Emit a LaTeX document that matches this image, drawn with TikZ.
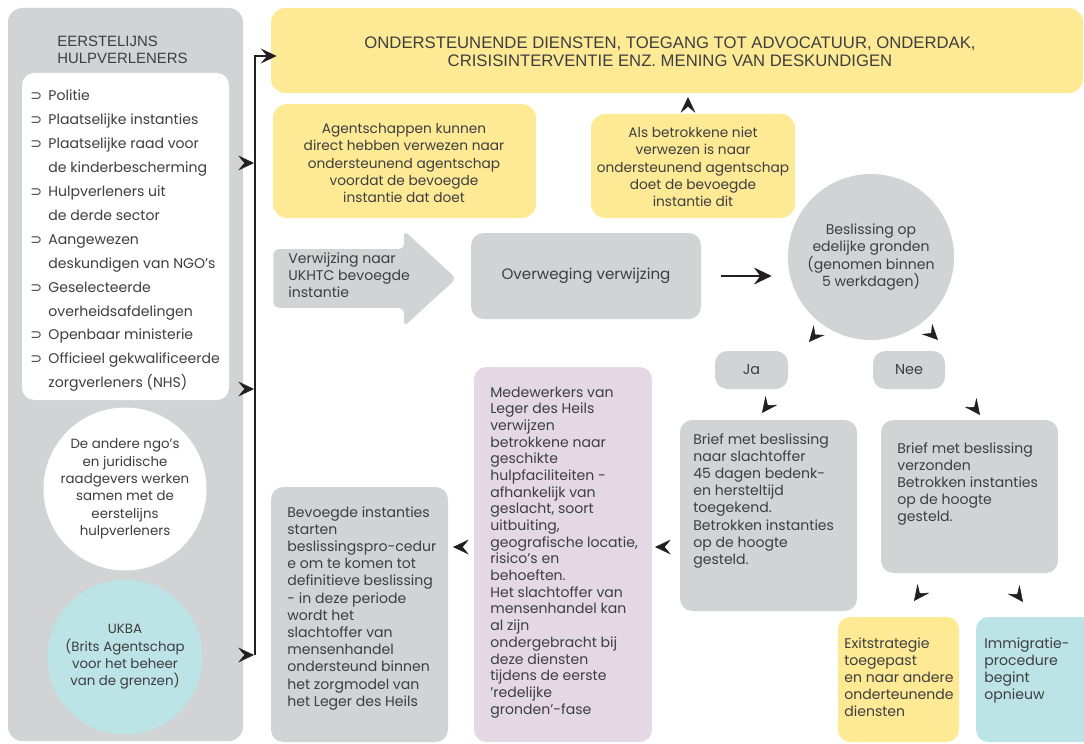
\documentclass[tikz,border=0pt]{standalone}
\usepackage{fontspec}
\setmainfont{Poppins}
\newfontfamily\capsfont{Liberation Sans}
\newfontfamily\symfont{DejaVu Sans}
\usetikzlibrary{arrows.meta,calc,fit,shapes.arrows}

\definecolor{greyc}{RGB}{209,211,212}
\definecolor{yellowc}{RGB}{254,234,149}
\definecolor{tealc}{RGB}{188,227,229}
\definecolor{lilac}{RGB}{227,216,228}
\definecolor{ink}{RGB}{62,62,64}
\definecolor{arrowc}{RGB}{35,31,32}

\newcommand{\itm}{{\symfont\fontsize{8}{8}\selectfont ⊃}}
\newcommand{\txtblock}[1]{\begin{tabular}[t]{@{}l@{}}#1\end{tabular}}

\begin{document}
\begin{tikzpicture}[x=0.02cm, y=-0.02cm,
    box/.style={rounded corners=5pt, inner sep=0pt, fill=#1},
    ltxt/.style={anchor=base west, align=left, inner sep=0pt, text=ink, font=\fontsize{8}{9.8}\selectfont},
    ctxt/.style={anchor=center, align=center, inner sep=0pt, text=ink, font=\fontsize{7.8}{10}\selectfont},
    headonly/.style={-{Stealth[length=9pt, width=8.5pt, inset=3.5pt]}, draw=arrowc, line width=0.3pt},
    bus/.style={draw=arrowc, line width=1.2pt, -{Stealth[length=9pt, width=8.5pt, inset=3.5pt]}}]

    \useasboundingbox (0,0) rectangle (1084,743);

    \node[box=greyc, rounded corners=8pt, fit={(8,8)(243,741)}] (panel) {};
    \node[box=white, rounded corners=7pt, fit={(22,73)(229,400)}] (lijst) {};
    \node[ltxt, font=\capsfont\fontsize{8.5}{9.3}\selectfont] (kop) at (57,47) {\txtblock{EERSTELIJNS\\HULPVERLENERS}};
    \node[ltxt, font=\fontsize{8}{13.6}\selectfont] (lijst-t) at (30,101) {%
        \begin{tabular}[t]{@{}l@{\hspace{3.6pt}}l@{}}
            \itm & Politie\\
            \itm & Plaatselijke instanties\\
            \itm & Plaatselijke raad voor\\
                 & de kinderbescherming\\
            \itm & Hulpverleners uit\\
                 & de derde sector\\
            \itm & Aangewezen\\
                 & deskundigen van NGO’s\\
            \itm & Geselecteerde\\
                 & overheidsafdelingen\\
            \itm & Openbaar ministerie\\
            \itm & Officieel gekwalificeerde\\
                 & zorgverleners (NHS)
        \end{tabular}};
    \node[circle, fill=white, minimum size=3.1cm, ctxt, font=\fontsize{7.6}{9.9}\selectfont] (ngo) at (125,489)
        {De andere ngo’s\\en juridische\\raadgevers werken\\samen met de\\eerstelijns\\hulpverleners};
    \node[circle, fill=tealc, minimum size=3.1cm, ctxt, font=\fontsize{7.6}{9.9}\selectfont] (ukba) at (125,657)
        {UKBA\\(Brits Agentschap\\voor het beheer\\van de grenzen)};

    \node[box=yellowc, rounded corners=8pt, fit={(271,8)(1083,93)}] (diensten) {};
    \node[ctxt, font=\capsfont\fontsize{9.5}{10.3}\selectfont] (diensten-t) at (670,52)
        {ONDERSTEUNENDE DIENSTEN, TOEGANG TOT ADVOCATUUR, ONDERDAK,\\CRISISINTERVENTIE ENZ. MENING VAN DESKUNDIGEN};

    \node[box=yellowc, rounded corners=8pt, fit={(273,104)(536,218)}] (direct) {};
    \node[ctxt, font=\fontsize{7.8}{9.9}\selectfont] (direct-t) at (404,163)
        {Agentschappen kunnen\\direct hebben verwezen naar\\ondersteunend agentschap\\voordat de bevoegde\\instantie dat doet};
    \node[box=yellowc, rounded corners=8pt, fit={(591,114)(795,218)}] (indien) {};
    \node[ctxt, font=\fontsize{7.8}{9.9}\selectfont] (indien-t) at (693,167)
        {Als betrokkene niet\\verwezen is naar\\ondersteunend agentschap\\doet de bevoegde\\instantie dit};

    \node[single arrow, fill=greyc, rounded corners=3pt, minimum height=3.66cm, minimum width=1.9cm,
        single arrow head extend=0.37cm, single arrow tip angle=85, inner xsep=0pt, inner ysep=0.58cm,
        anchor=tail] (verw) at (273,278.5) {};
    \node[ltxt, font=\fontsize{8}{9.9}\selectfont] (verw-t) at (288,263) {\txtblock{Verwijzing naar\\UKHTC bevoegde\\instantie}};

    \node[box=greyc, rounded corners=7pt, fit={(471,233)(701,319)}] (overw) {};
    \node[ctxt, font=\fontsize{8.6}{11}\selectfont] (overw-t) at (overw) {Overweging verwijzing};

    \node[circle, fill=greyc, minimum size=3.32cm, ctxt, font=\fontsize{8}{10}\selectfont] (besl) at (871,257)
        {Beslissing op\\edelijke gronden\\(genomen binnen\\5 werkdagen)};

    \node[box=greyc, rounded corners=7pt, fit={(715,351)(788,389)}] (ja) {};
    \node[ctxt, font=\fontsize{8.2}{10}\selectfont] (ja-t) at (ja) {Ja};
    \node[box=greyc, rounded corners=7pt, fit={(873,351)(945,389)}] (nee) {};
    \node[ctxt, font=\fontsize{8.2}{10}\selectfont] (nee-t) at (nee) {Nee};

    \node[box=greyc, rounded corners=7pt, fit={(680,420)(857,611)}] (brief1) {};
    \node[ltxt] (brief1-t) at (693,444)
        {\txtblock{Brief met beslissing\\naar slachtoffer\\45 dagen bedenk-\\en hersteltijd\\toegekend.\\Betrokken instanties\\op de hoogte\\gesteld.}};
    \node[box=greyc, rounded corners=7pt, fit={(881,420)(1058,573)}] (brief2) {};
    \node[ltxt] (brief2-t) at (897,453)
        {\txtblock{Brief met beslissing\\verzonden\\Betrokken instanties\\op de hoogte\\gesteld.}};

    \node[box=yellowc, rounded corners=7pt, fit={(838,617)(959,742)}] (exit) {};
    \node[ltxt] (exit-t) at (844,648) {\txtblock{Exitstrategie\\toegepast\\en naar andere\\onderteunende\\diensten}};
    \node[box=tealc, rounded corners=7pt, fit={(976,617)(1095,742)}] (immig) {};
    \node[ltxt] (immig-t) at (984,648) {\txtblock{Immigratie-\\procedure\\begint\\opnieuw}};

    \node[box=lilac, rounded corners=7pt, fit={(474,367)(652,742)}] (leger) {};
    \node[ltxt, font=\fontsize{8}{9.5}\selectfont] (leger-t) at (490,397)
        {\txtblock{Medewerkers van\\Leger des Heils\\verwijzen\\betrokkene naar\\geschikte\\hulpfaciliteiten -\\afhankelijk van\\geslacht, soort\\uitbuiting,\\geografische locatie,\\risico’s en\\behoeften.\\Het slachtoffer van\\mensenhandel kan\\al zijn\\ondergebracht bij\\deze diensten\\tijdens de eerste\\’redelijke\\gronden’-fase}};

    \node[box=greyc, rounded corners=7pt, fit={(271,487)(448,742)}] (bevoegd) {};
    \node[ltxt] (bevoegd-t) at (287,517)
        {\txtblock{Bevoegde instanties\\starten\\beslissingspro-cedur\\e om te komen tot\\definitieve beslissing\\- in deze periode\\wordt het\\slachtoffer van\\mensenhandel\\ondersteund binnen\\het zorgmodel van\\het Leger des Heils}};

    \coordinate (bus-a) at (255,655);
    \coordinate (bus-b) at (255,56);
    \draw[bus, shorten >=-0.12cm] (bus-a) -- (bus-b) -- (bus-b -| diensten.west);

    \coordinate (t1) at (244,163);  \coordinate (h1) at (254,163);
    \coordinate (t2) at (244,389);  \coordinate (h2) at (254,389);
    \coordinate (t3) at (244,655);  \coordinate (h3) at (254,655);
    \coordinate (t4) at (688,107);  \coordinate (h4) at (688,97);
    \coordinate (t5) at (815,335);  \coordinate (h5) at (809,342);
    \coordinate (t6) at (931,333);  \coordinate (h6) at (938,340);
    \coordinate (t7) at (768,405);  \coordinate (h7) at (762,413);
    \coordinate (t8) at (974,407);  \coordinate (h8) at (980,415);
    \coordinate (t9) at (920,593);  \coordinate (h9) at (914,601);
    \coordinate (t10) at (1017,594); \coordinate (h10) at (1023,602);
    \coordinate (t11) at (665,547); \coordinate (h11) at (655,547);
    \coordinate (t12) at (463,547); \coordinate (h12) at (453,547);

    \draw[headonly] (t1) -- (h1);
    \draw[headonly] (t2) -- (h2);
    \draw[headonly] (t3) -- (h3);
    \draw[headonly] (t4) -- (h4);
    \draw[headonly] (t5) -- (h5);
    \draw[headonly] (t6) -- (h6);
    \draw[headonly] (t7) -- (h7);
    \draw[headonly] (t8) -- (h8);
    \draw[headonly] (t9) -- (h9);
    \draw[headonly] (t10) -- (h10);
    \draw[headonly] (t11) -- (h11);
    \draw[headonly] (t12) -- (h12);

    \draw[draw=arrowc, line width=1.6pt, -{Stealth[length=10pt, width=9.5pt, inset=3.5pt]},
        shorten <=0.4cm, shorten >=0.32cm] (overw.east) -- (overw.east -| besl.west);

\end{tikzpicture}
\end{document}
